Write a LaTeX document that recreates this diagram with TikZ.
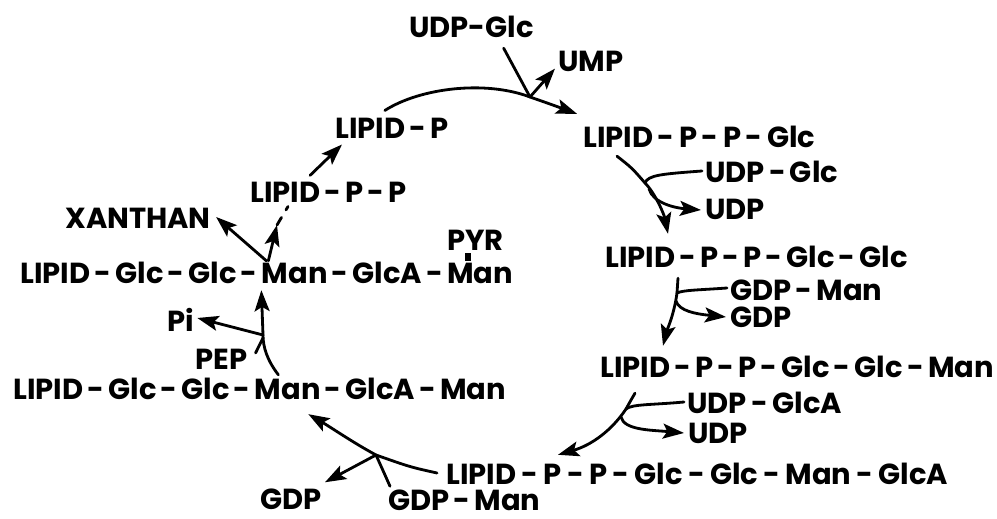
\documentclass[tikz,border=0pt]{standalone}
\usepackage{fontspec}
\setmainfont{Poppins}
\usetikzlibrary{arrows.meta,calc}
\newlength\pxu
\setlength\pxu{0.02cm}
% label stretched to a given width (in picture units) through its spaces
\newcommand{\wbox}[2]{\makebox[#1\pxu][s]{#2}}

\begin{document}
\begin{tikzpicture}[x=0.02cm,y=-0.02cm,
  lab/.style={font=\fontsize{16.5}{18}\selectfont\bfseries, inner sep=0pt, anchor=west},
  link/.style={line width=1.6pt, line cap=round},
  arr/.style={link, -{Stealth[length=12pt,width=8.5pt,inset=2.5pt]}},
  bondmark/.style={fill, inner sep=0pt, minimum width=0.12cm, minimum height=0.16cm}]
\useasboundingbox (0,0) rectangle (997,519);

% ---------- compounds ----------
\node[lab] (udpglcA) at (409,27) {UDP-Glc};
\node[lab] (ump)     at (558,61) {UMP};
\node[lab] (lp)      at (335,128) {\wbox{105}{LIPID - P}};
\node[lab] (lppg)    at (583,137) {\wbox{232}{LIPID - P - P - Glc}};
\node[lab] (udpglcB) at (705,172) {\wbox{127}{UDP - Glc}};
\node[lab] (udpA)    at (705,209) {UDP};
\node[lab] (lppgg)   at (605,257) {\wbox{300}{LIPID - P - P - Glc - Glc}};
\node[lab] (gdpmanA) at (730,290) {\wbox{147}{GDP - Man}};
\node[lab] (gdpA)    at (730,317) {GDP};
\node[lab] (lppggm)  at (600,367) {\wbox{393}{LIPID - P - P - Glc - Glc - Man}};
\node[lab] (udpglca) at (687,403) {\wbox{155}{UDP - GlcA}};
\node[lab] (udpB)    at (688,433) {UDP};
\node[lab] (lppggmg) at (446,474) {\wbox{502}{LIPID - P - P - Glc - Glc - Man - GlcA}};
\node[lab] (gdpB)    at (260,499) {GDP};
\node[lab] (gdpmanB) at (388,500) {\wbox{139}{GDP - Man}};
\node[lab] (lowlip)  at (13,389) {\wbox{480}{LIPID - Glc - Glc - Man - GlcA - Man}};
\node[lab] (pep)     at (195,359) {PEP};
\node[lab] (pi)      at (167,320) {Pi};
\node[lab] (uplip)   at (20,273) {\wbox{470}{LIPID - Glc - Glc - Man - GlcA - Man}};
\node[lab] (xan)     at (65,218) {XANTHAN};
\node[lab] (lpp)     at (250,192) {\wbox{155}{LIPID - P - P}};
\node[lab] (pyr)     at (447,240) {PYR};
\node[bondmark] (bond) at (468,257) {};

% ---------- branch points on the cycle ----------
\coordinate (j1) at (530,97);
\coordinate (j2) at (645,183);
\coordinate (j2b) at (649,189);
\coordinate (j3) at (677,293);
\coordinate (j3b) at (676,301);
\coordinate (j4) at (626,409);
\coordinate (j4b) at (621,417);
\coordinate (j5) at (376,455);
\coordinate (j6) at (263,335);
\coordinate (j7) at (277,225);

% LIPID-P -> LIPID-P-P-Glc
\draw[link] ($(lp.north)+(-3,-7)$) .. controls (420,88) and (485,80) .. (j1);
\draw[arr] (j1) .. controls (550,104) .. ($(lppg.north west)+(-6,-12)$);
\draw[link] ($(udpglcA.south)+(32,10)$) -- (j1);
\draw[arr] (j1) -- ($(ump.south west)+(-3,-3)$);

% LIPID-P-P-Glc -> LIPID-P-P-Glc-Glc
\draw[link] ($(lppg.south west)+(34,8)$) .. controls (632,168) .. (j2);
\draw[arr] (j2) .. controls (655,193) and (664,214) .. ($(lppgg.north west)+(63,-12)$);
\draw[link] ($(udpglcB.west)+(-3,-1)$) .. controls (662,174) and (648,175) .. (j2);
\draw[arr] (j2b) .. controls (653,203) and (675,208) .. ($(udpA.west)+(-4,1)$);

% LIPID-P-P-Glc-Glc -> LIPID-P-P-Glc-Glc-Man
\draw[link] ($(lppgg.south west)+(73,10)$) -- (j3);
\draw[arr] (j3) .. controls (674,315) and (667,330) .. ($(lppggm.north west)+(63,-10)$);
\draw[link] ($(gdpmanA.west)+(-3,-2)$) .. controls (700,290) and (683,290) .. (j3);
\draw[arr] (j3b) .. controls (679,311) and (696,314) .. ($(gdpA.west)+(-4,0)$);

% LIPID-P-P-Glc-Glc-Man -> LIPID-P-P-Glc-Glc-Man-GlcA
\draw[link] ($(lppggm.south west)+(35,15)$) .. controls (631,400) .. (j4);
\draw[arr] (j4) .. controls (612,430) and (592,445) .. ($(lppggmg.north west)+(112,-8)$);
\draw[link] ($(udpglca.west)+(-3,-1)$) .. controls (652,405) and (632,404) .. (j4);
\draw[arr] (j4b) .. controls (624,430) and (650,430) .. ($(udpB.west)+(-4,0)$);

% LIPID-P-P-Glc-Glc-Man-GlcA -> LIPID-Glc-Glc-Man-GlcA-Man
\draw[link] ($(lppggmg.west)+(-9,-1)$) .. controls (410,467) .. (j5);
\draw[arr] (j5) .. controls (352,442) and (332,428) .. ($(lowlip.south)+(55,14)$);
\draw[arr] (j5) -- ($(gdpB.north east)+(3,-6)$);
\draw[link] ($(gdpmanB.north west)+(2,-3)$) .. controls (385,475) .. (j5);

% pyruvylation
\draw[link] ($(lowlip.north)+(25,-3)$) .. controls (267,360) and (263,347) .. (j6);
\draw[arr] (j6) -- ($(uplip.south)+(6,6)$);
\draw[link] ($(pep.east)+(8,-6)$) -- ($(j6)+(0,3)$);
\draw[arr] (j6) -- ($(pi.east)+(3,-2)$);

% release of xanthan and recycling of the carrier
\draw[arr] ($(uplip.north)+(11,-1)$) -- ($(xan.east)+(5,-1)$);
\draw[arr] ($(uplip.north)+(13,-1)$) -- (j7);
\draw[link, dash pattern=on 5pt off 5pt] (j7) -- ($(lpp.south west)+(38,4)$);
\draw[arr] ($(lpp.north west)+(60,-6)$) -- ($(lp.south west)+(7,6)$);
\end{tikzpicture}
\end{document}
